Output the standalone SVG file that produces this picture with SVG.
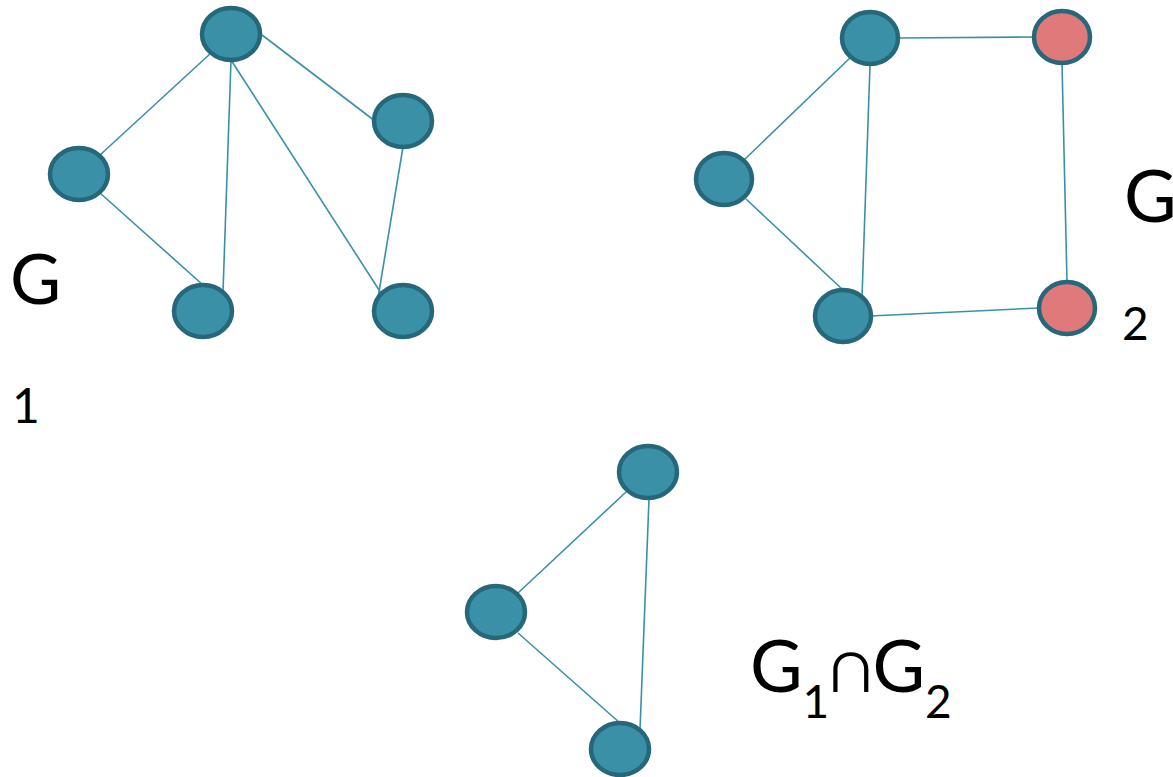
<svg xmlns="http://www.w3.org/2000/svg" width="1173" height="777" viewBox="0 0 1173 777">
<style>
.n{fill:#3A91A7;stroke:#26687A;stroke-width:4.5}
.r{fill:#E07979;stroke:#26687A;stroke-width:4.5}
.e line{stroke:#3A91A7;stroke-width:1.6}
text{font-family:Lato,"Open Sans","Liberation Sans",sans-serif;fill:#000}
</style>
<rect width="1173" height="777" fill="#fff"/>
<g id="connectors" class="e">
<line x1="211" y1="53" x2="100" y2="155"/>
<line x1="231" y1="60" x2="223" y2="292"/>
<line x1="231" y1="60" x2="381" y2="293"/>
<line x1="262" y1="35" x2="375" y2="121"/>
<line x1="403" y1="147" x2="376" y2="310"/>
<line x1="100" y1="193" x2="203" y2="285"/>
<line x1="899" y1="38" x2="1033" y2="37"/>
<line x1="1062" y1="63" x2="1067" y2="282"/>
<line x1="744" y1="160" x2="851" y2="57"/>
<line x1="746" y1="199" x2="843" y2="290"/>
<line x1="870" y1="65" x2="862" y2="297"/>
<line x1="870" y1="316" x2="1038" y2="308"/>
<line x1="626" y1="492" x2="518" y2="593"/>
<line x1="518" y1="633" x2="620" y2="723"/>
<line x1="649" y1="499" x2="640" y2="730"/>
</g>
<g id="g1-top"><ellipse class="n" cx="231" cy="34" rx="29" ry="26"/></g>
<g id="g1-left"><ellipse class="n" cx="79" cy="174" rx="29" ry="26"/></g>
<g id="g1-right"><ellipse class="n" cx="403" cy="121" rx="29" ry="26"/></g>
<g id="g1-bottom-mid"><ellipse class="n" cx="203" cy="311" rx="29" ry="26"/></g>
<g id="g1-bottom-right"><ellipse class="n" cx="403" cy="311" rx="29" ry="26"/></g>
<g id="g2-top"><ellipse class="n" cx="870" cy="38" rx="28" ry="26"/></g>
<g id="g2-top-red"><ellipse class="r" cx="1062" cy="37" rx="28" ry="26"/></g>
<g id="g2-left"><ellipse class="n" cx="724" cy="179" rx="28" ry="26"/></g>
<g id="g2-bottom"><ellipse class="n" cx="843" cy="316" rx="28" ry="26"/></g>
<g id="g2-bottom-red"><ellipse class="r" cx="1067" cy="308" rx="28" ry="26"/></g>
<g id="gi-top"><ellipse class="n" cx="648" cy="472" rx="29" ry="26"/></g>
<g id="gi-left"><ellipse class="n" cx="496" cy="612" rx="29" ry="26"/></g>
<g id="gi-bottom"><ellipse class="n" cx="620" cy="749" rx="29" ry="26"/></g>
<g id="labels">
<text x="10" y="304" font-size="70">G</text>
<text x="12" y="423" font-size="48">1</text>
<text x="1124" y="222" font-size="72">G</text>
<text x="1122" y="340" font-size="46">2</text>
<text x="750" y="692" font-size="72">G<tspan font-size="46" dy="26">1</tspan><tspan dy="-26">∩G</tspan><tspan font-size="46" dy="26">2</tspan></text>
</g>
</svg>
